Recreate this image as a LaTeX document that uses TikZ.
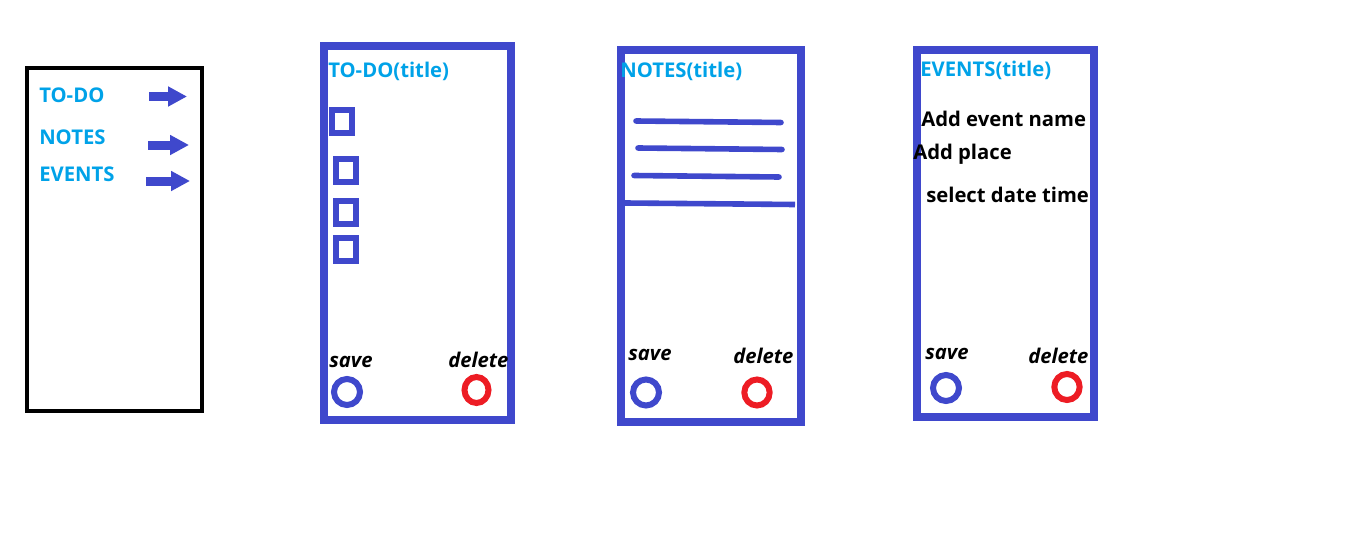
\documentclass[tikz,border=0pt]{standalone}
\usepackage{fontspec}
\setmainfont{Open Sans}
\usetikzlibrary{arrows.meta,positioning,shapes.geometric}
\definecolor{indigo}{RGB}{63,72,204}
\definecolor{turq}{RGB}{0,162,232}
\definecolor{paintred}{RGB}{237,28,36}
\tikzset{
  screen/.style={draw=indigo, line width=6pt, rectangle, inner sep=0pt},
  menubox/.style={draw=black, line width=3pt, rectangle, inner sep=0pt},
  checkbox/.style={draw=indigo, line width=4.5pt, rectangle, inner sep=0pt,
    minimum width=15pt, minimum height=17.25pt},
  savebtn/.style={draw=indigo, line width=4.5pt, circle, inner sep=0pt, minimum size=19.5pt},
  delbtn/.style={draw=paintred, line width=4.5pt, ellipse, inner sep=0pt,
    minimum width=19pt, minimum height=19.5pt},
  noteline/.style={draw=indigo, line width=4.2pt, line cap=round},
  menuarrow/.style={draw=indigo, line width=6.75pt, -{Triangle[length=14.25pt,width=14.25pt]}},
  txt/.style={anchor=base west, inner sep=0pt, font=\fontsize{15.2}{18}\selectfont\bfseries},
  menutxt/.style={txt, text=turq},
  btntxt/.style={txt, font=\fontsize{15.2}{18}\selectfont\bfseries\itshape},
}
\begin{document}
\begin{tikzpicture}[x=0.75pt, y=-0.75pt]
  \useasboundingbox (0,0) rectangle (1360,560);

  % Menu
  \node[menubox, minimum width=131.6pt, minimum height=256.9pt] (menu) at (114.75,239.25) {};
  \node[menutxt] (mtodo) at (39,103) {TO-DO};
  \node[menutxt] (mnotes) at (39,144) {NOTES};
  \node[menutxt] (mevents) at (39,181) {EVENTS};
  \coordinate (atodo) at (149,96.5);   \coordinate (ttodo) at (187,96.5);
  \coordinate (anotes) at (148,145);   \coordinate (tnotes) at (189,145);
  \coordinate (aevents) at (146,181);  \coordinate (tevents) at (190,181);
  \draw[menuarrow] (atodo) -- (ttodo);
  \draw[menuarrow] (anotes) -- (tnotes);
  \draw[menuarrow] (aevents) -- (tevents);

  % To-do screen
  \node[screen, minimum width=140.25pt, minimum height=280.5pt] (todo) at (417.5,233) {};
  \node[menutxt] (todotitle) at (328,78) {TO-DO(title)};
  \node[checkbox] (cb1) at (342,121.5) {};
  \node[checkbox] (cb2) at (345.5,170.5) {};
  \node[checkbox] (cb3) at (345.5,212) {};
  \node[checkbox] (cb4) at (345.5,249.5) {};
  \node[btntxt] (todosavet) at (329,367) {save};
  \node[btntxt] (tododelt) at (448,367) {delete};
  \node[savebtn] (todosave) at (347,392) {};
  \node[delbtn, minimum width=18pt] (tododel) at (476.5,390) {};

  % Notes screen
  \node[screen, minimum width=135pt, minimum height=279pt] (notes) at (711,236) {};
  \node[menutxt] (notestitle) at (620,78) {NOTES(title)};
  \draw[noteline] (636,121) -- (781,122.5);
  \draw[noteline] (638,148) -- (782,149.5);
  \draw[noteline] (634,175.5) -- (779,177);
  \draw[noteline, line cap=butt] (625,203) -- (795,204.5);
  \node[btntxt] (notessavet) at (628,360) {save};
  \node[btntxt] (notesdelt) at (733,363) {delete};
  \node[savebtn] (notessave) at (646,392.5) {};
  \node[delbtn] (notesdel) at (757,392.5) {};

  % Events screen
  \node[screen, minimum width=132.75pt, minimum height=275.6pt] (events) at (1005.5,233.75) {};
  \node[menutxt] (eventstitle) at (920,77) {EVENTS(title)};
  \node[txt] (evname) at (921,127) {Add event name};
  \node[txt] (evplace) at (913,159) {Add place};
  \node[txt] (evdate) at (926,202) {select date time};
  \node[btntxt] (eventssavet) at (925,359) {save};
  \node[btntxt] (eventsdelt) at (1028,363) {delete};
  \node[savebtn] (eventssave) at (946,388) {};
  \node[delbtn] (eventsdel) at (1067,387) {};
\end{tikzpicture}
\end{document}
